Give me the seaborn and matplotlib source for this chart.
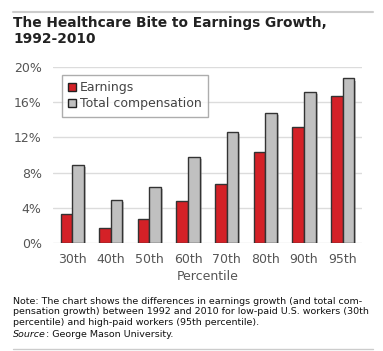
import numpy as np
import pandas as pd
import seaborn as sns
import matplotlib.pyplot as plt
import matplotlib.patheffects as pe
from matplotlib.lines import Line2D

# values (percent growth 1992-2010)
percentiles = ["30th", "40th", "50th", "60th", "70th", "80th", "90th", "95th"]
earnings = [3.3, 1.7, 2.7, 4.8, 6.7, 10.3, 13.2, 16.7]
total_comp = [8.9, 4.9, 6.4, 9.8, 12.6, 14.8, 17.2, 18.7]
series_names = ["Earnings", "Total compensation"]
y_ticks = [0, 4, 8, 12, 16, 20]

df = pd.DataFrame({
    "Percentile": percentiles * 2,
    "value": earnings + total_comp,
    "series": [series_names[0]] * len(percentiles) + [series_names[1]] * len(percentiles),
})

sns.set_style("white")
plt.rcParams["font.family"] = ["DejaVu Sans"]

fig = plt.figure(figsize=(3.83, 3.51), dpi=100)
ax = fig.add_axes([0.138, 0.308, 0.807, 0.501])

palette = {"Earnings": "#d42127", "Total compensation": "#c0c0c0"}
sns.barplot(data=df, x="Percentile", y="value", hue="series", palette=palette,
            width=0.6, edgecolor="#333333", linewidth=1.0, saturation=1,
            ax=ax, zorder=3)

shadow = [pe.SimplePatchShadow(offset=(1.5, -1.5), shadow_rgbFace="#888888", alpha=0.5), pe.Normal()]
for p in ax.patches:
    p.set_path_effects(shadow)

ax.set_ylim(0, 20)
ax.set_yticks(y_ticks)
ax.set_yticklabels([f"{v}%" for v in y_ticks])
ax.yaxis.grid(True, color="#dcdcdc", linewidth=1, zorder=0)
ax.set_axisbelow(True)
for s in ax.spines.values():
    s.set_visible(False)
ax.tick_params(axis="both", length=0, labelsize=9, labelcolor="#555555")
ax.tick_params(axis="y", pad=8)
ax.tick_params(axis="x", pad=7)
ax.set_xlabel("Percentile", fontsize=9, color="#555555", labelpad=3)
ax.set_ylabel("")

leg = ax.legend(loc="upper left", bbox_to_anchor=(0.03, 0.955), frameon=True,
                fancybox=False, edgecolor="#999999", fontsize=9,
                handlelength=0.6, handleheight=0.6, handletextpad=0.3,
                labelspacing=0.25, borderpad=0.5, borderaxespad=0)
leg.get_frame().set_linewidth(1)
for t in leg.get_texts():
    t.set_color("#444444")
for h in leg.legend_handles:
    h.set_edgecolor("#222222")
    h.set_path_effects([])

# title and rules
fig.add_artist(Line2D([13 / 383, 373 / 383], [1 - 12 / 351] * 2, color="#cccccc", linewidth=1.5))
fig.add_artist(Line2D([13 / 383, 373 / 383], [1 - 349 / 351] * 2, color="#cccccc", linewidth=1.0))
fig.text(13 / 383, 1 - 16 / 351, "The Healthcare Bite to Earnings Growth,\n1992-2010",
         fontsize=9.9, fontweight="bold", color="#222222", va="top", ha="left",
         linespacing=1.2)

note = ("Note: The chart shows the differences in earnings growth (and total com-\n"
        "pensation growth) between 1992 and 2010 for low-paid U.S. workers (30th\n"
        "percentile) and high-paid workers (95th percentile).")
fig.text(13 / 383, 1 - 297 / 351, note, fontsize=6.8, color="#111111",
         va="top", ha="left", linespacing=1.18)
src = fig.text(13 / 383, 1 - 337 / 351, "Source", fontsize=6.8, style="italic",
               color="#111111", va="baseline", ha="left")
ax.annotate(": George Mason University.", xy=(1, 0), xycoords=src,
            fontsize=6.8, color="#111111", va="bottom", ha="left")

fig.savefig("out.png", dpi=100)
